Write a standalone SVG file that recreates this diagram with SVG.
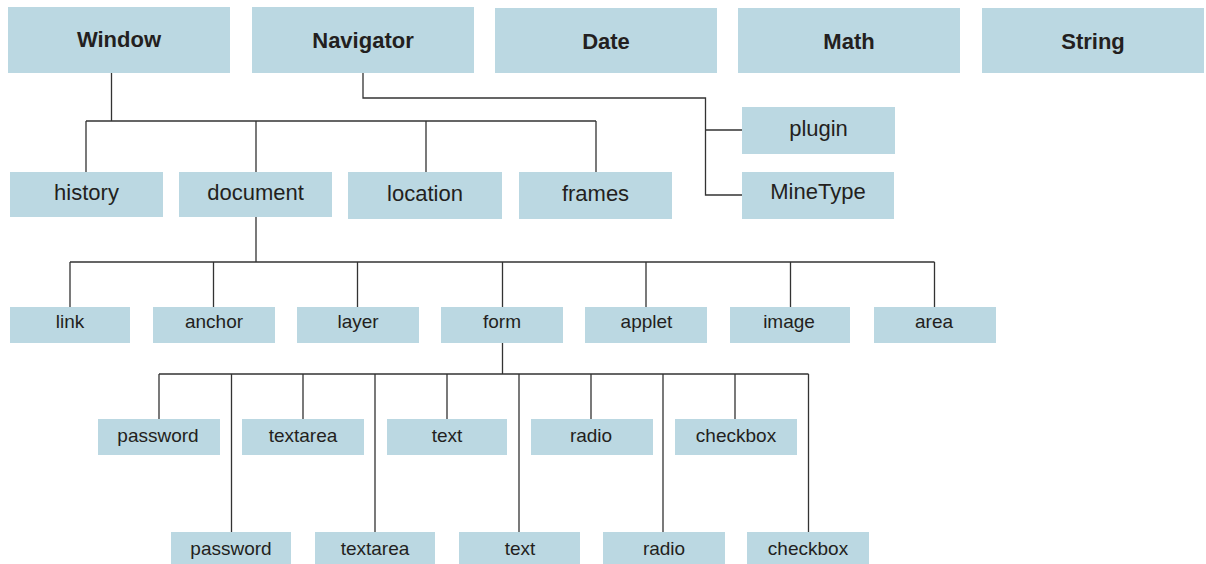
<svg xmlns="http://www.w3.org/2000/svg" width="1206" height="564" viewBox="0 0 1206 564">
  <style>
    .box { fill: #bbd8e2; }
    .lbl { font-family: "Liberation Sans", Arial, sans-serif; fill: #231f20; text-anchor: middle; }
    .top { font-size: 22px; font-weight: bold; }
    .mid { font-size: 22px; }
    .sm { font-size: 19px; }
    .wire { fill: none; stroke: #333; stroke-width: 1.3; }
  </style>
  <rect width="1206" height="564" fill="#fff"/>

  <!-- connectors -->
  <g id="connectors" class="wire">
    <!-- Window to its children -->
    <path d="M111.5 73 V121 M86 121 H596 M86 121 V172 M256 121 V172 M426 121 V172 M596 121 V172"/>
    <!-- Navigator to plugin / MineType -->
    <path d="M363 73 V98 H705.5 V195 H742 M705.5 130 H742"/>
    <!-- document to its children -->
    <path d="M256 217 V262 M70 262 H934.5 M70 262 V307 M213.5 262 V307 M357.5 262 V307 M502.5 262 V307 M646 262 V307 M790.5 262 V307 M934.5 262 V307"/>
    <!-- form to its elements -->
    <path d="M502.5 343 V374 M159 374 H808.5 M159 374 V419 M303 374 V419 M447 374 V419 M591 374 V419 M735 374 V419 M231.5 374 V532 M375 374 V532 M519 374 V532 M663 374 V532 M808.5 374 V532"/>
  </g>

  <!-- top-level objects -->
  <g id="window"><rect class="box" x="8" y="7" width="222" height="66"/><text class="lbl top" x="119" y="47">Window</text></g>
  <g id="navigator"><rect class="box" x="252" y="7" width="222" height="66"/><text class="lbl top" x="363" y="48">Navigator</text></g>
  <g id="date"><rect class="box" x="495" y="8" width="222" height="65"/><text class="lbl top" x="606" y="49">Date</text></g>
  <g id="math"><rect class="box" x="738" y="8" width="222" height="65"/><text class="lbl top" x="849" y="49">Math</text></g>
  <g id="string"><rect class="box" x="982" y="8" width="222" height="65"/><text class="lbl top" x="1093" y="49">String</text></g>

  <!-- window children -->
  <g id="history"><rect class="box" x="10" y="172" width="153" height="45"/><text class="lbl mid" x="86.5" y="200">history</text></g>
  <g id="document"><rect class="box" x="179" y="172" width="153" height="45"/><text class="lbl mid" x="255.5" y="200">document</text></g>
  <g id="location"><rect class="box" x="348" y="172" width="154" height="47"/><text class="lbl mid" x="425" y="201">location</text></g>
  <g id="frames"><rect class="box" x="519" y="172" width="153" height="47"/><text class="lbl mid" x="595.5" y="201">frames</text></g>

  <!-- navigator children -->
  <g id="plugin"><rect class="box" x="742" y="107" width="153" height="47"/><text class="lbl mid" x="818.5" y="136">plugin</text></g>
  <g id="minetype"><rect class="box" x="742" y="172" width="152" height="47"/><text class="lbl mid" x="818" y="199">MineType</text></g>

  <!-- document children -->
  <g id="link"><rect class="box" x="10" y="307" width="120" height="36"/><text class="lbl sm" x="70" y="328">link</text></g>
  <g id="anchor"><rect class="box" x="153" y="307" width="122" height="36"/><text class="lbl sm" x="214" y="328">anchor</text></g>
  <g id="layer"><rect class="box" x="297" y="307" width="122" height="36"/><text class="lbl sm" x="358" y="328">layer</text></g>
  <g id="form"><rect class="box" x="441" y="307" width="122" height="36"/><text class="lbl sm" x="502" y="328">form</text></g>
  <g id="applet"><rect class="box" x="585" y="307" width="122" height="36"/><text class="lbl sm" x="646.5" y="328">applet</text></g>
  <g id="image"><rect class="box" x="730" y="307" width="120" height="36"/><text class="lbl sm" x="789" y="328">image</text></g>
  <g id="area"><rect class="box" x="874" y="307" width="122" height="36"/><text class="lbl sm" x="934" y="328">area</text></g>

  <!-- form elements, upper row -->
  <g id="password-1"><rect class="box" x="98" y="419" width="122" height="36"/><text class="lbl sm" x="158" y="442">password</text></g>
  <g id="textarea-1"><rect class="box" x="242" y="419" width="122" height="36"/><text class="lbl sm" x="303" y="442">textarea</text></g>
  <g id="text-1"><rect class="box" x="387" y="419" width="120" height="36"/><text class="lbl sm" x="447" y="442">text</text></g>
  <g id="radio-1"><rect class="box" x="531" y="419" width="122" height="36"/><text class="lbl sm" x="591" y="442">radio</text></g>
  <g id="checkbox-1"><rect class="box" x="675" y="419" width="122" height="36"/><text class="lbl sm" x="736" y="442">checkbox</text></g>

  <!-- form elements, lower row -->
  <g id="password-2"><rect class="box" x="171" y="532" width="120" height="32"/><text class="lbl sm" x="231" y="555">password</text></g>
  <g id="textarea-2"><rect class="box" x="315" y="532" width="120" height="32"/><text class="lbl sm" x="375" y="555">textarea</text></g>
  <g id="text-2"><rect class="box" x="459" y="532" width="121" height="32"/><text class="lbl sm" x="520" y="555">text</text></g>
  <g id="radio-2"><rect class="box" x="603" y="532" width="122" height="32"/><text class="lbl sm" x="664" y="555">radio</text></g>
  <g id="checkbox-2"><rect class="box" x="747" y="532" width="122" height="32"/><text class="lbl sm" x="808" y="555">checkbox</text></g>
</svg>
